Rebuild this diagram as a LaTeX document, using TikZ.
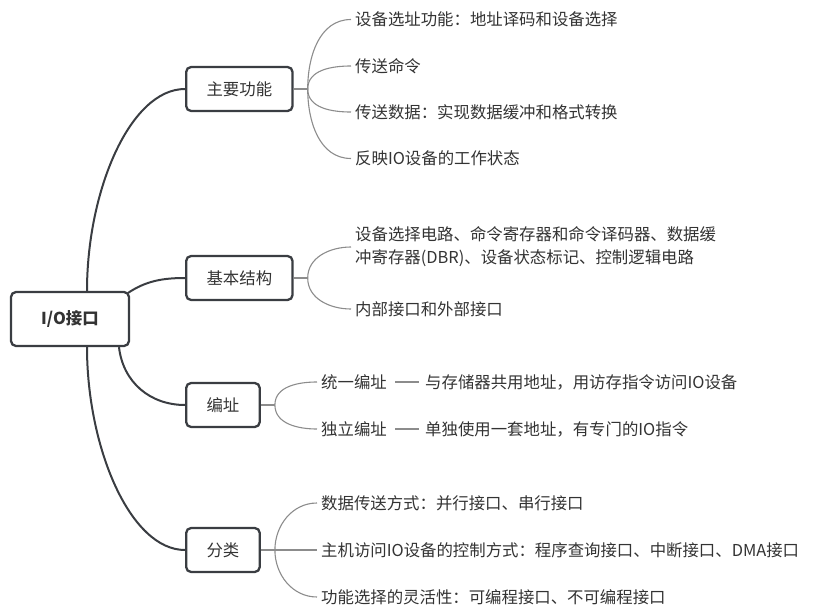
\documentclass[tikz,border=0pt]{standalone}
\usepackage{fontspec}
\setmainfont{Noto Sans CJK SC}
\usepackage{tikz}
\usetikzlibrary{positioning, calc}
\definecolor{boxline}{HTML}{3A3D42}
\definecolor{textcol}{HTML}{333333}
\definecolor{twigcol}{HTML}{8C8C8C}

\begin{document}
\begin{tikzpicture}[
    x=1pt, y=1pt,
    every node/.style={font=\fontsize{16.4}{23}\selectfont, text=textcol},
    rootbox/.style={draw=boxline, line width=2.3pt, rounded corners=5pt,
                    minimum width=118pt, minimum height=54pt,
                    font=\fontsize{16.4}{23}\selectfont\bfseries},
    topic/.style={draw=boxline, line width=2.3pt, rounded corners=5pt,
                  minimum height=44pt, inner xsep=20.4pt, anchor=west},
    leaf/.style={anchor=west, inner xsep=4pt, inner ysep=2pt, align=left},
    trunk/.style={line width=2pt, boxline},
    twig/.style={line width=1.1pt, twigcol},
    gapline/.style={twig, shorten <=4pt, shorten >=2pt},
]
    \useasboundingbox (0,0) rectangle (815,-608);

    % centre and the four topics
    \node[rootbox] (io) at (70,-319) {I/O接口};
    \node[topic] (fn) at (185,-89)  {主要功能};
    \node[topic] (st) at (185,-278) {基本结构};
    \node[topic] (ad) at (185,-405) {编址};
    \node[topic] (cl) at (185,-550) {分类};

    \draw[trunk] ([xshift=17pt]io.north) .. controls +(0,100) and +(-55,0) .. (fn.west);
    \draw[trunk] ([shift={(-2,-2)}]io.north east) .. controls +(18,12) and +(-22,0) .. (st.west);
    \draw[trunk] ([xshift=49pt]io.south) .. controls +(4,-35) and +(-35,0) .. (ad.west);
    \draw[trunk] ([xshift=17pt]io.south) .. controls +(0,-100) and +(-55,0) .. (cl.west);

    % leaves
    \node[leaf] (fn1) at (351,-19.5) {设备选址功能：地址译码和设备选择};
    \node[leaf] (fn2) at (351,-66)   {传送命令};
    \node[leaf] (fn3) at (351,-112)  {传送数据：实现数据缓冲和格式转换};
    \node[leaf] (fn4) at (351,-158.5) {反映IO设备的工作状态};

    \node[leaf] (st1) at (351,-247) {设备选择电路、命令寄存器和命令译码器、数据缓\\
                                     冲寄存器(DBR)、设备状态标记、控制逻辑电路};
    \node[leaf] (st2) at (351,-309) {内部接口和外部接口};

    \node[leaf] (ad1) at (317,-382) {统一编址};
    \node[leaf] (ad2) at (317,-429) {独立编址};
    \node[leaf, right=30pt of ad1] (ad1t) {与存储器共用地址，用访存指令访问IO设备};
    \node[leaf, right=30pt of ad2] (ad2t) {单独使用一套地址，有专门的IO指令};

    \node[leaf] (cl1) at (317,-503) {数据传送方式：并行接口、串行接口};
    \node[leaf] (cl2) at (317,-550) {主机访问IO设备的控制方式：程序查询接口、中断接口、DMA接口};
    \node[leaf] (cl3) at (317,-597) {功能选择的灵活性：可编程接口、不可编程接口};

    % fans from each topic
    \foreach \t in {fn,st,ad,cl} {
        \coordinate (\t j) at ([xshift=14pt]\t.east);
        \draw[twig] (\t.east) -- (\t j);
    }
    \foreach \n in {fn1,fn2} \draw[twig] (fnj) to[out=90,in=180] (\n.west);
    \foreach \n in {fn3,fn4} \draw[twig] (fnj) to[out=-90,in=180] (\n.west);
    \draw[twig] (stj) to[out=90,in=180] (st1.west);
    \draw[twig] (stj) to[out=-90,in=180] (st2.west);
    \draw[twig] (adj) to[out=90,in=180] (ad1.west);
    \draw[twig] (adj) to[out=-90,in=180] (ad2.west);
    \draw[twig] (clj) to[out=90,in=180] (cl1.west);
    \draw[twig] (clj) -- (cl2.west);
    \draw[twig] (clj) to[out=-90,in=180] (cl3.west);

    \draw[gapline] (ad1) -- (ad1t);
    \draw[gapline] (ad2) -- (ad2t);
\end{tikzpicture}
\end{document}
